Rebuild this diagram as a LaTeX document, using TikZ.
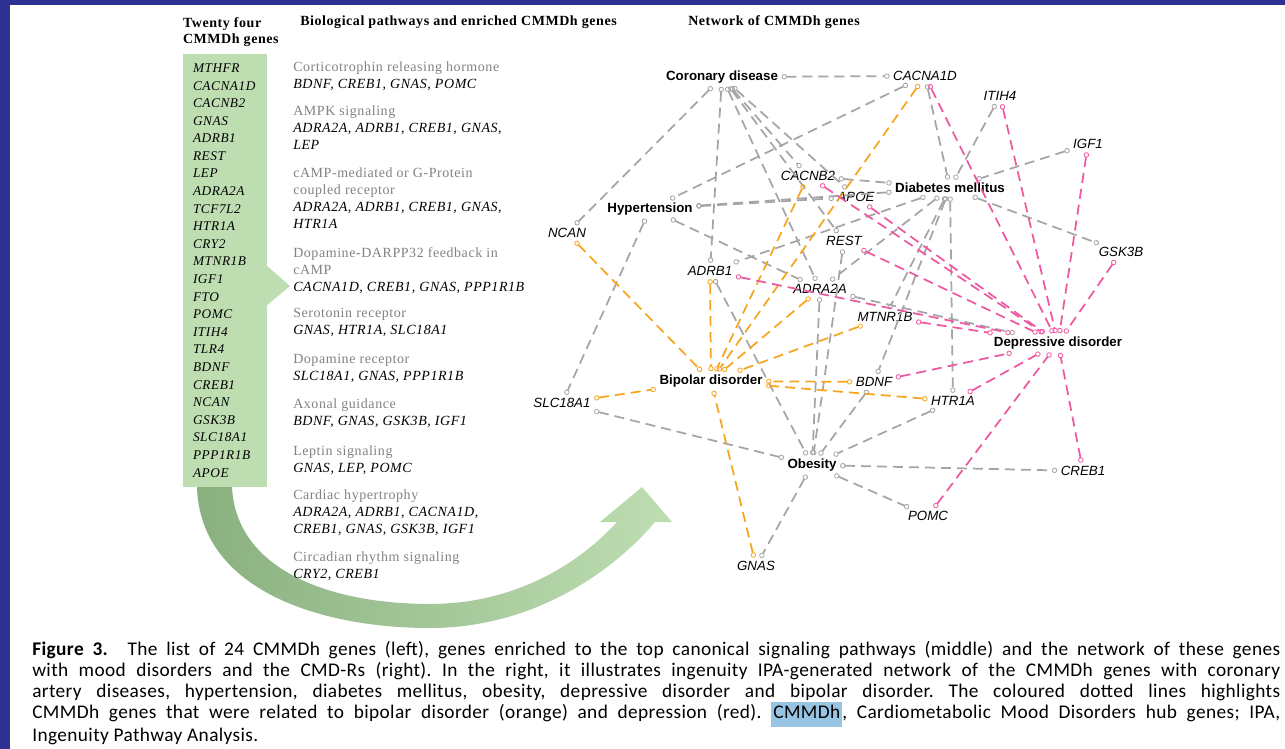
\documentclass[tikz,border=0pt]{standalone}
\usepackage{fontspec}
\setmainfont{Liberation Serif}
\setsansfont{Liberation Sans}
\newfontfamily\capfont[LetterSpace=2]{Carlito}
\newfontfamily\listfont[LetterSpace=4]{Liberation Serif}
\usetikzlibrary{arrows.meta,positioning}

\definecolor{slide}{RGB}{46,49,146}
\definecolor{boxgreen}{RGB}{190,222,178}
\definecolor{arrowdark}{RGB}{138,176,128}
\definecolor{pathgrey}{RGB}{130,130,130}
\definecolor{netgrey}{RGB}{165,165,165}
\definecolor{netorange}{RGB}{247,165,30}
\definecolor{netpink}{RGB}{238,88,160}
\definecolor{hilite}{RGB}{150,196,226}

\begin{document}
\begin{tikzpicture}[x=0.75pt, y=-0.75pt, >={Circle[open,length=4pt,line width=0.6pt]}]
    % Define styles
    \tikzstyle{head} = [font=\listfont\bfseries\fontsize{10.5}{12}\selectfont, inner sep=0pt, align=left]
    \tikzstyle{genebox} = [rectangle, fill=boxgreen, minimum width=63pt, minimum height=324.75pt, text width=48pt, inner xsep=7.5pt, inner ysep=0pt, align=left, font=\listfont\itshape\fontsize{10}{13.2}\selectfont]
    \tikzstyle{pathway} = [anchor=north west, inner sep=0pt, align=left, font=\listfont\fontsize{10.5}{12.75}\selectfont]
    \tikzstyle{disease} = [font=\sffamily\bfseries\fontsize{10}{12}\selectfont, inner sep=2.5pt]
    \tikzstyle{gene} = [font=\sffamily\itshape\fontsize{10}{12}\selectfont, inner sep=2.5pt]
    \tikzstyle{link} = [<->, dash pattern=on 7.5pt off 4.5pt, line width=1.3pt]
    \tikzstyle{grey link} = [link, draw=netgrey]
    \tikzstyle{orange link} = [link, draw=netorange]
    \tikzstyle{pink link} = [link, draw=netpink]

    % Slide frame
    \useasboundingbox (0,0) rectangle (1285,749);
    \fill [slide] (0,0) rectangle (1285,749);
    \fill [white] (10,5) rectangle (1285,749);

    % Gene list
    \node [genebox] (genes) at (225,270.5) {MTHFR\\CACNA1D\\CACNB2\\GNAS\\ADRB1\\REST\\LEP\\ADRA2A\\TCF7L2\\HTR1A\\CRY2\\MTNR1B\\IGF1\\FTO\\POMC\\ITIH4\\TLR4\\BDNF\\CREB1\\NCAN\\GSK3B\\SLC18A1\\PPP1R1B\\APOE};
    \fill [boxgreen] (266,265) -- (290,286) -- (266,306) -- cycle;
    \node [head, above right=5pt and 0pt of genes.north west] (listhead) {Twenty four\\CMMDh genes};

    % Big arrow
    \shade [left color=arrowdark, right color=boxgreen] (197,487) .. controls (200,590) and (320,628) .. (430,628)
        .. controls (530,628) and (610,575) .. (655,522) -- (672,522) -- (642,487) -- (600,522) -- (617,522)
        .. controls (575,568) and (510,604) .. (430,604) .. controls (330,604) and (236,570) .. (232,487) -- cycle;

    % Headers
    \node [head, anchor=west] (pathhead) at (300,22) {Biological pathways and enriched CMMDh genes};
    \node [head, anchor=west] (nethead) at (688,22) {Network of CMMDh genes};

    % Pathways
    \node [pathway] (p1) at (293,62) {\textcolor{pathgrey}{Corticotrophin releasing hormone}\\\textit{BDNF, CREB1, GNAS, POMC}};
    \node [pathway] (p2) at (293,106) {\textcolor{pathgrey}{AMPK signaling}\\\textit{ADRA2A, ADRB1, CREB1, GNAS,}\\\textit{LEP}};
    \node [pathway] (p3) at (293,168) {\textcolor{pathgrey}{cAMP-mediated or G-Protein}\\\textcolor{pathgrey}{coupled receptor}\\\textit{ADRA2A, ADRB1, CREB1, GNAS,}\\\textit{HTR1A}};
    \node [pathway] (p4) at (293,247) {\textcolor{pathgrey}{Dopamine-DARPP32 feedback in}\\\textcolor{pathgrey}{cAMP}\\\textit{CACNA1D, CREB1, GNAS, PPP1R1B}};
    \node [pathway] (p5) at (293,308) {\textcolor{pathgrey}{Serotonin receptor}\\\textit{GNAS, HTR1A, SLC18A1}};
    \node [pathway] (p6) at (293,354) {\textcolor{pathgrey}{Dopamine receptor}\\\textit{SLC18A1, GNAS, PPP1R1B}};
    \node [pathway] (p7) at (293,399) {\textcolor{pathgrey}{Axonal guidance}\\\textit{BDNF, GNAS, GSK3B, IGF1}};
    \node [pathway] (p8) at (293,446) {\textcolor{pathgrey}{Leptin signaling}\\\textit{GNAS, LEP, POMC}};
    \node [pathway] (p9) at (293,490) {\textcolor{pathgrey}{Cardiac hypertrophy}\\\textit{ADRA2A, ADRB1, CACNA1D,}\\\textit{CREB1, GNAS, GSK3B, IGF1}};
    \node [pathway] (p10) at (293,552) {\textcolor{pathgrey}{Circadian rhythm signaling}\\\textit{CRY2, CREB1}};

    % Network: diseases
    \node [disease] (cor) at (722,77) {Coronary disease};
    \node [disease] (hyp) at (650,209) {Hypertension};
    \node [disease] (diab) at (950,188) {Diabetes mellitus};
    \node [disease] (dep) at (1058,343) {Depressive disorder};
    \node [disease] (bip) at (711,381) {Bipolar disorder};
    \node [disease] (obe) at (812,465) {Obesity};

    % Network: genes
    \node [gene] (cacna) at (925,76) {CACNA1D};
    \node [gene] (itih) at (1000,96) {ITIH4};
    \node [gene] (igf) at (1088,144) {IGF1};
    \node [gene] (cacnb) at (808,176) {CACNB2};
    \node [gene] (apoe) at (856,197) {APOE};
    \node [gene] (ncan) at (567,233) {NCAN};
    \node [gene] (rest) at (844,241) {REST};
    \node [gene] (gsk) at (1121,252) {GSK3B};
    \node [gene] (adrb) at (710,271) {ADRB1};
    \node [gene] (adra) at (820,289) {ADRA2A};
    \node [gene] (mtnr) at (885,317) {MTNR1B};
    \node [gene] (bdnf) at (874,382) {BDNF};
    \node [gene] (htr) at (953,401) {HTR1A};
    \node [gene] (slc) at (562,403) {SLC18A1};
    \node [gene] (creb) at (1083,471) {CREB1};
    \node [gene] (pomc) at (928,516) {POMC};
    \node [gene] (gnas) at (756,566) {GNAS};

    % Grey links
    \draw [grey link] (cor) -- (cacna);
    \draw [grey link] (cor) -- (ncan);
    \draw [grey link] (cor) -- (adrb);
    \draw [grey link] (cor) -- (cacnb);
    \draw [grey link] (cor) -- (apoe);
    \draw [grey link] (cor) -- (rest);
    \draw [grey link] (cor) -- (adra);
    \draw [grey link] (cacna) -- (hyp);
    \draw [grey link] (cacna) -- (diab);
    \draw [grey link] (hyp) -- (apoe);
    \draw [grey link] (hyp) -- (diab);
    \draw [grey link] (hyp) -- (slc);
    \draw [grey link] (hyp) -- (adra);
    \draw [grey link] (cacnb) -- (diab);
    \draw [grey link] (itih) -- (diab);
    \draw [grey link] (igf) -- (diab);
    \draw [grey link] (diab) -- (gsk);
    \draw [grey link] (diab) -- (htr);
    \draw [grey link] (diab) -- (mtnr);
    \draw [grey link] (diab) -- (bdnf);
    \draw [grey link] (diab) -- (adra);
    \draw [grey link] (diab) -- (adrb);
    \draw [grey link] (adra) -- (dep);
    \draw [grey link] (adrb) -- (obe);
    \draw [grey link] (adra) -- (obe);
    \draw [grey link] (rest) -- (obe);
    \draw [grey link] (bdnf) -- (obe);
    \draw [grey link] (htr) -- (obe);
    \draw [grey link] (slc) -- (obe);
    \draw [grey link] (obe) -- (creb);
    \draw [grey link] (obe) -- (pomc);
    \draw [grey link] (obe) -- (gnas);

    % Bipolar disorder links
    \draw [orange link] (ncan) -- (bip);
    \draw [orange link] (adrb) -- (bip);
    \draw [orange link] (cacnb) -- (bip);
    \draw [orange link] (cacna) -- (bip);
    \draw [orange link] (adra) -- (bip);
    \draw [orange link] (mtnr) -- (bip);
    \draw [orange link] (bdnf) -- (bip);
    \draw [orange link] (htr) -- (bip);
    \draw [orange link] (slc) -- (bip);
    \draw [orange link] (gnas) -- (bip);

    % Depressive disorder links
    \draw [pink link] (cacna) -- (dep);
    \draw [pink link] (itih) -- (dep);
    \draw [pink link] (igf) -- (dep);
    \draw [pink link] (gsk) -- (dep);
    \draw [pink link] (cacnb) -- (dep);
    \draw [pink link] (apoe) -- (dep);
    \draw [pink link] (rest) -- (dep);
    \draw [pink link] (adrb) -- (dep);
    \draw [pink link] (mtnr) -- (dep);
    \draw [pink link] (bdnf) -- (dep);
    \draw [pink link] (htr) -- (dep);
    \draw [pink link] (pomc) -- (dep);
    \draw [pink link] (creb) -- (dep);

    % Caption
    \node [anchor=north west, inner sep=0pt, text width=936pt, align=justify, font=\capfont\frenchspacing\fontsize{14.5}{15.75}\selectfont] (caption) at (32,641)
        {\textbf{Figure 3.}\hspace{1em}The list of 24 CMMDh genes (left), genes enriched to the top canonical signaling pathways (middle) and the network of these genes\linebreak
        with mood disorders and the CMD-Rs (right). In the right, it illustrates ingenuity IPA-generated network of the CMMDh genes with coronary\linebreak
        artery diseases, hypertension, diabetes mellitus, obesity, depressive disorder and bipolar disorder. The coloured dotted lines highlights\linebreak
        CMMDh genes that were related to bipolar disorder (orange) and depression (red). {\setlength{\fboxsep}{1.5pt}\colorbox{hilite}{\strut CMMDh}}, Cardiometabolic Mood Disorders hub genes; IPA,\linebreak
        Ingenuity Pathway Analysis.};
\end{tikzpicture}
\end{document}
